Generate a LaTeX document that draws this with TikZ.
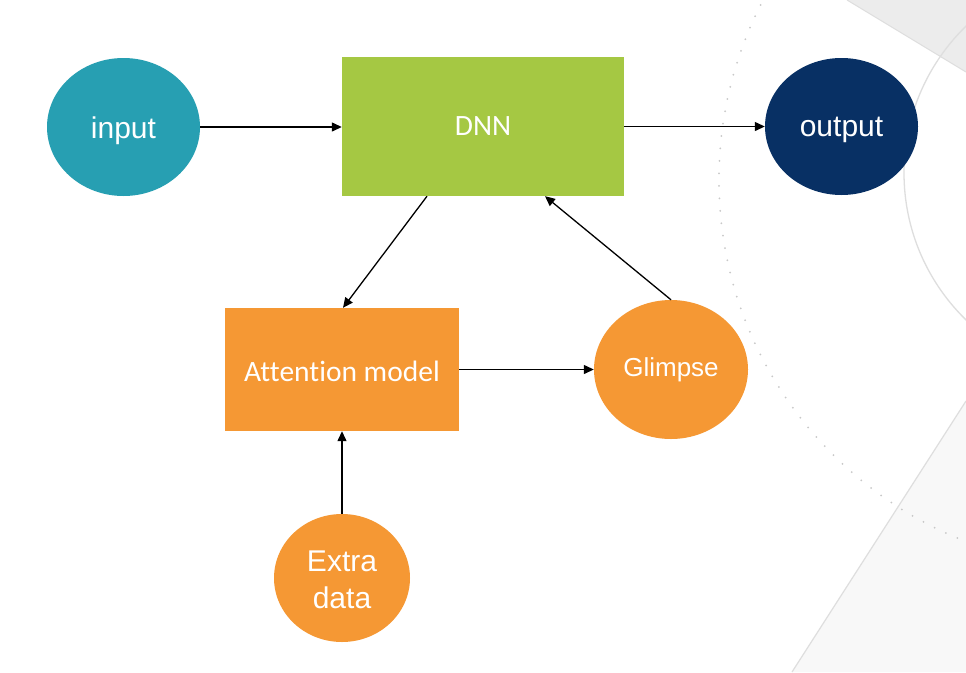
\documentclass[tikz,border=0pt]{standalone}
\usepackage{fontspec}
\setmainfont{Liberation Sans}
\newfontfamily\calfont[Ligatures={NoCommon}]{Carlito}
\usetikzlibrary{shapes.geometric,arrows.meta}
\definecolor{tealA}{HTML}{279FB2}
\definecolor{greenA}{HTML}{A5C843}
\definecolor{navyA}{HTML}{083064}
\definecolor{orangeA}{HTML}{F59834}
\definecolor{bgtop}{HTML}{ECECEC}
\definecolor{bgline}{HTML}{DEDEDE}
\definecolor{bgbot}{HTML}{F8F8F8}
\definecolor{dotcol}{HTML}{C8C8C8}
\newcommand{\lowtext}[2][3.5pt]{\raisebox{-#1}[\height][\depth]{#2}}
\begin{document}
\begin{tikzpicture}[x=1pt,y=-1pt,
  ell/.style={ellipse,inner sep=0pt,text=white,font=\fontsize{30}{37}\selectfont,align=center},
  box/.style={rectangle,inner sep=0pt,text=white,font=\calfont\fontsize{29.5}{34}\selectfont},
  conn/.style={line width=1.3pt,-{Triangle[length=10pt,width=9pt]}}]
\useasboundingbox (0,0) rectangle (966,672);
\begin{scope}
  \clip (0,0) rectangle (966,672);
  \fill[white] (0,0) rectangle (966,672);
  \fill[bgtop] (847,0) -- (966,0) -- (966,72) -- cycle;
  \draw[bgline,line width=1pt] (847,0) -- (966,72);
  \fill[bgbot] (792,672) -- (966,401) -- (966,672) -- cycle;
  \draw[bgline,line width=1.2pt] (792,672) -- (966,401);
  \draw[bgline,line width=1.3pt] (1109,173) circle[radius=205pt];
  \draw[dotcol,line width=2pt,dash pattern=on 0pt off 12.5pt,line cap=round] (1107,180) circle[radius=388pt];
\end{scope}
\node[ell,fill=tealA,minimum width=153pt,minimum height=138pt] (in) at (123.5,127) {\lowtext{input}};
\node[box,fill=greenA,minimum width=282pt,minimum height=139pt] (dnn) at (483,126.5) {DNN};
\node[ell,fill=navyA,minimum width=153pt,minimum height=137pt] (out) at (841.5,126.5) {\lowtext{output}};
\node[box,fill=orangeA,minimum width=234pt,minimum height=123pt] (att) at (342,369.5) {\lowtext[2pt]{Attention model}};
\node[ell,fill=orangeA,font=\fontsize{26}{32}\selectfont,minimum width=154pt,minimum height=139pt] (gl) at (671,369.5) {Glimpse};
\node[ell,fill=orangeA,minimum width=136pt,minimum height=128pt] (ex) at (342,578) {\lowtext[2pt]{Extra}\\\lowtext[2pt]{data}};
\draw[conn] (in.east) -- (in.east -| dnn.west);
\draw[conn] (dnn.east |- out.west) -- (out.west);
\draw[conn] ([xshift=-56pt]dnn.south) -- ([xshift=1pt]att.north);
\draw[conn] (gl.north) -- ([xshift=62pt]dnn.south);
\draw[conn] (att.east) -- (gl.west);
\draw[conn] (ex.north) -- (att.south);
\end{tikzpicture}
\end{document}
